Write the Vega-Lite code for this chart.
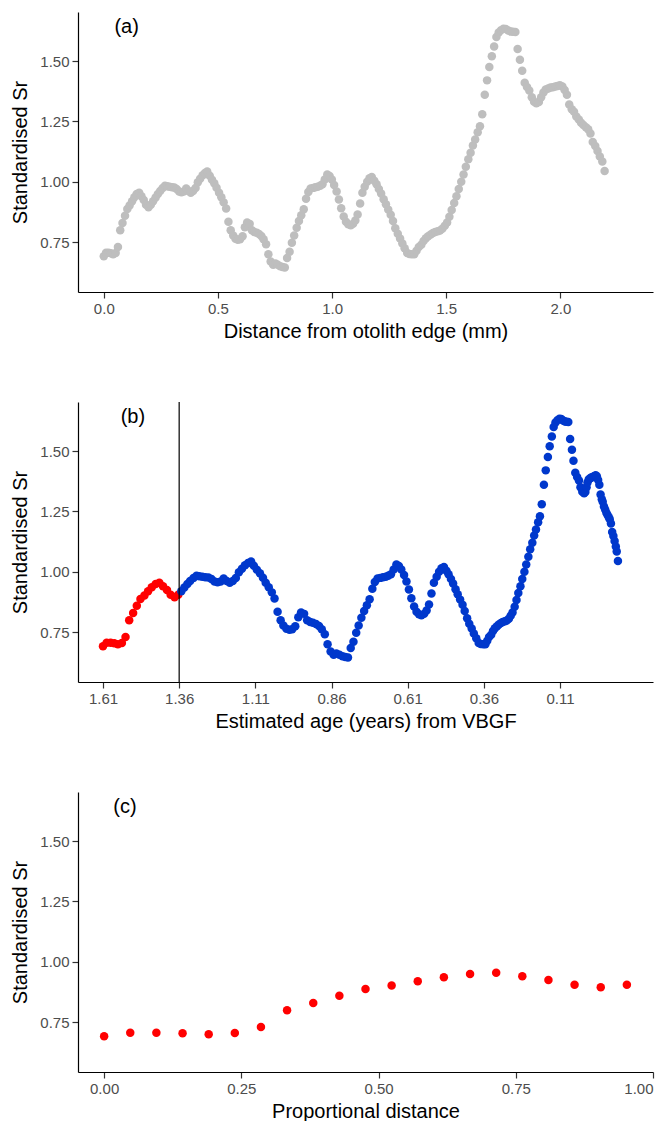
{
  "$schema": "https://vega.github.io/schema/vega-lite/v6.json",
  "padding": {"left": 10, "top": 12, "right": 8, "bottom": 0},
  "spacing": 110,
  "bounds": "flush",
  "config": {
    "view": {"stroke": null},
    "font": "Liberation Sans",
    "axis": {"grid": false, "domainColor": "#000000", "domainWidth": 1.2, "tickColor": "#333333", "tickSize": 6, "tickWidth": 1.2, "labelColor": "#4D4D4D", "labelFontSize": 15, "labelPadding": 3, "titleFontSize": 20, "titleFontWeight": "normal", "titleColor": "#000000"},
    "axisY": {"titlePadding": 9},
    "axisX": {"titlePadding": 5}
  },
  "datasets": {
    "sr": [
      {"d":0,"a":1.61,"v":0.692},{"d":0.010,"a":1.598,"v":0.706},{"d":0.021,"a":1.585,"v":0.706},{"d":0.031,"a":1.573,"v":0.704},{"d":0.041,"a":1.561,"v":0.700},{"d":0.052,"a":1.548,"v":0.705},{"d":0.062,"a":1.536,"v":0.730},{"d":0.072,"a":1.524,"v":0.800},{"d":0.082,"a":1.511,"v":0.830},{"d":0.093,"a":1.499,"v":0.860},
      {"d":0.103,"a":1.487,"v":0.888},{"d":0.113,"a":1.474,"v":0.902},{"d":0.124,"a":1.462,"v":0.920},{"d":0.134,"a":1.450,"v":0.936},{"d":0.144,"a":1.437,"v":0.950},{"d":0.155,"a":1.425,"v":0.955},{"d":0.165,"a":1.413,"v":0.940},{"d":0.175,"a":1.400,"v":0.925},{"d":0.185,"a":1.388,"v":0.905},{"d":0.196,"a":1.375,"v":0.895},
      {"d":0.206,"a":1.363,"v":0.905},{"d":0.216,"a":1.353,"v":0.920},{"d":0.227,"a":1.343,"v":0.935},{"d":0.237,"a":1.333,"v":0.950},{"d":0.247,"a":1.324,"v":0.962},{"d":0.258,"a":1.313,"v":0.975},{"d":0.268,"a":1.303,"v":0.984},{"d":0.278,"a":1.294,"v":0.982},{"d":0.288,"a":1.284,"v":0.980},{"d":0.299,"a":1.274,"v":0.978},
      {"d":0.309,"a":1.264,"v":0.977},{"d":0.319,"a":1.254,"v":0.970},{"d":0.330,"a":1.244,"v":0.960},{"d":0.340,"a":1.234,"v":0.957},{"d":0.350,"a":1.224,"v":0.960},{"d":0.361,"a":1.214,"v":0.972},{"d":0.371,"a":1.204,"v":0.962},{"d":0.381,"a":1.194,"v":0.955},{"d":0.391,"a":1.184,"v":0.962},{"d":0.402,"a":1.174,"v":0.975},
      {"d":0.412,"a":1.164,"v":0.998},{"d":0.422,"a":1.154,"v":1.013},{"d":0.433,"a":1.144,"v":1.027},{"d":0.443,"a":1.134,"v":1.037},{"d":0.453,"a":1.124,"v":1.043},{"d":0.464,"a":1.115,"v":1.025},{"d":0.474,"a":1.105,"v":1.009},{"d":0.484,"a":1.095,"v":0.994},{"d":0.494,"a":1.085,"v":0.976},{"d":0.505,"a":1.076,"v":0.955},
      {"d":0.515,"a":1.066,"v":0.936},{"d":0.525,"a":1.056,"v":0.915},{"d":0.536,"a":1.047,"v":0.890},{"d":0.546,"a":1.037,"v":0.835},{"d":0.556,"a":1.027,"v":0.800},{"d":0.567,"a":1.018,"v":0.778},{"d":0.577,"a":1.008,"v":0.764},{"d":0.587,"a":0.998,"v":0.760},{"d":0.597,"a":0.989,"v":0.762},{"d":0.608,"a":0.979,"v":0.775},
      {"d":0.618,"a":0.969,"v":0.812},{"d":0.628,"a":0.960,"v":0.832},{"d":0.639,"a":0.950,"v":0.826},{"d":0.649,"a":0.940,"v":0.800},{"d":0.659,"a":0.930,"v":0.792},{"d":0.670,"a":0.921,"v":0.789},{"d":0.680,"a":0.911,"v":0.784},{"d":0.690,"a":0.901,"v":0.776},{"d":0.700,"a":0.892,"v":0.762},{"d":0.711,"a":0.882,"v":0.742},
      {"d":0.721,"a":0.873,"v":0.700},{"d":0.731,"a":0.863,"v":0.670},{"d":0.742,"a":0.853,"v":0.657},{"d":0.752,"a":0.844,"v":0.662},{"d":0.762,"a":0.834,"v":0.657},{"d":0.773,"a":0.824,"v":0.651},{"d":0.783,"a":0.815,"v":0.647},{"d":0.793,"a":0.806,"v":0.645},{"d":0.803,"a":0.797,"v":0.685},{"d":0.814,"a":0.788,"v":0.711},
      {"d":0.824,"a":0.779,"v":0.748},{"d":0.834,"a":0.771,"v":0.778},{"d":0.845,"a":0.762,"v":0.810},{"d":0.855,"a":0.753,"v":0.838},{"d":0.865,"a":0.744,"v":0.862},{"d":0.876,"a":0.735,"v":0.887},{"d":0.886,"a":0.726,"v":0.930},{"d":0.896,"a":0.718,"v":0.958},{"d":0.906,"a":0.709,"v":0.972},{"d":0.917,"a":0.700,"v":0.975},
      {"d":0.927,"a":0.691,"v":0.978},{"d":0.937,"a":0.682,"v":0.980},{"d":0.948,"a":0.674,"v":0.984},{"d":0.958,"a":0.665,"v":0.990},{"d":0.968,"a":0.656,"v":1.010},{"d":0.979,"a":0.647,"v":1.030},{"d":0.989,"a":0.639,"v":1.024},{"d":0.999,"a":0.631,"v":1.010},{"d":1.009,"a":0.622,"v":0.987},{"d":1.020,"a":0.614,"v":0.960},
      {"d":1.030,"a":0.606,"v":0.927},{"d":1.040,"a":0.598,"v":0.891},{"d":1.051,"a":0.589,"v":0.857},{"d":1.061,"a":0.581,"v":0.835},{"d":1.071,"a":0.573,"v":0.824},{"d":1.082,"a":0.565,"v":0.820},{"d":1.092,"a":0.556,"v":0.826},{"d":1.102,"a":0.548,"v":0.840},{"d":1.112,"a":0.540,"v":0.865},{"d":1.123,"a":0.532,"v":0.910},
      {"d":1.133,"a":0.524,"v":0.955},{"d":1.143,"a":0.515,"v":0.980},{"d":1.154,"a":0.507,"v":1.000},{"d":1.164,"a":0.499,"v":1.015},{"d":1.174,"a":0.491,"v":1.020},{"d":1.185,"a":0.483,"v":1.005},{"d":1.195,"a":0.476,"v":0.990},{"d":1.205,"a":0.468,"v":0.970},{"d":1.215,"a":0.461,"v":0.952},{"d":1.226,"a":0.453,"v":0.928},
      {"d":1.236,"a":0.446,"v":0.907},{"d":1.246,"a":0.438,"v":0.885},{"d":1.257,"a":0.430,"v":0.864},{"d":1.267,"a":0.423,"v":0.838},{"d":1.277,"a":0.415,"v":0.808},{"d":1.288,"a":0.408,"v":0.785},{"d":1.298,"a":0.400,"v":0.765},{"d":1.308,"a":0.393,"v":0.745},{"d":1.318,"a":0.385,"v":0.725},{"d":1.329,"a":0.377,"v":0.705},
      {"d":1.339,"a":0.370,"v":0.701},{"d":1.349,"a":0.362,"v":0.700},{"d":1.360,"a":0.355,"v":0.700},{"d":1.370,"a":0.349,"v":0.715},{"d":1.380,"a":0.343,"v":0.730},{"d":1.391,"a":0.336,"v":0.740},{"d":1.401,"a":0.330,"v":0.755},{"d":1.411,"a":0.324,"v":0.767},{"d":1.421,"a":0.317,"v":0.775},{"d":1.432,"a":0.311,"v":0.782},
      {"d":1.442,"a":0.304,"v":0.788},{"d":1.452,"a":0.298,"v":0.792},{"d":1.463,"a":0.291,"v":0.795},{"d":1.473,"a":0.285,"v":0.799},{"d":1.483,"a":0.278,"v":0.806},{"d":1.494,"a":0.272,"v":0.818},{"d":1.504,"a":0.266,"v":0.832},{"d":1.514,"a":0.259,"v":0.855},{"d":1.524,"a":0.253,"v":0.883},{"d":1.535,"a":0.247,"v":0.912},
      {"d":1.545,"a":0.240,"v":0.940},{"d":1.555,"a":0.234,"v":0.970},{"d":1.566,"a":0.227,"v":1.000},{"d":1.576,"a":0.221,"v":1.030},{"d":1.586,"a":0.214,"v":1.062},{"d":1.597,"a":0.208,"v":1.094},{"d":1.607,"a":0.201,"v":1.120},{"d":1.617,"a":0.195,"v":1.150},{"d":1.627,"a":0.189,"v":1.175},{"d":1.638,"a":0.182,"v":1.205},
      {"d":1.648,"a":0.176,"v":1.230},{"d":1.658,"a":0.170,"v":1.280},{"d":1.669,"a":0.163,"v":1.360},{"d":1.679,"a":0.157,"v":1.420},{"d":1.689,"a":0.150,"v":1.475},{"d":1.700,"a":0.144,"v":1.520},{"d":1.710,"a":0.137,"v":1.560},{"d":1.720,"a":0.131,"v":1.600},{"d":1.730,"a":0.125,"v":1.618},{"d":1.741,"a":0.118,"v":1.628},
      {"d":1.751,"a":0.112,"v":1.634},{"d":1.761,"a":0.106,"v":1.633},{"d":1.772,"a":0.100,"v":1.626},{"d":1.782,"a":0.094,"v":1.622},{"d":1.792,"a":0.089,"v":1.621},{"d":1.803,"a":0.083,"v":1.620},{"d":1.813,"a":0.077,"v":1.550},{"d":1.823,"a":0.071,"v":1.505},{"d":1.833,"a":0.066,"v":1.460},{"d":1.844,"a":0.060,"v":1.410},
      {"d":1.854,"a":0.054,"v":1.393},{"d":1.864,"a":0.048,"v":1.378},{"d":1.875,"a":0.043,"v":1.350},{"d":1.885,"a":0.037,"v":1.332},{"d":1.895,"a":0.031,"v":1.325},{"d":1.906,"a":0.027,"v":1.330},{"d":1.916,"a":0.023,"v":1.350},{"d":1.926,"a":0.020,"v":1.370},{"d":1.936,"a":0.016,"v":1.382},{"d":1.947,"a":0.012,"v":1.386},
      {"d":1.957,"a":0.008,"v":1.390},{"d":1.967,"a":0.004,"v":1.392},{"d":1.978,"a":0.000,"v":1.395},{"d":1.988,"a":-0.004,"v":1.397},{"d":1.998,"a":-0.007,"v":1.400},{"d":2.009,"a":-0.011,"v":1.395},{"d":2.019,"a":-0.015,"v":1.380},{"d":2.029,"a":-0.019,"v":1.360},{"d":2.039,"a":-0.023,"v":1.320},{"d":2.050,"a":-0.027,"v":1.300},
      {"d":2.060,"a":-0.030,"v":1.290},{"d":2.070,"a":-0.034,"v":1.270},{"d":2.081,"a":-0.038,"v":1.258},{"d":2.091,"a":-0.042,"v":1.245},{"d":2.101,"a":-0.046,"v":1.235},{"d":2.112,"a":-0.050,"v":1.226},{"d":2.122,"a":-0.053,"v":1.218},{"d":2.132,"a":-0.057,"v":1.200},{"d":2.142,"a":-0.061,"v":1.165},{"d":2.153,"a":-0.065,"v":1.148},
      {"d":2.163,"a":-0.069,"v":1.128},{"d":2.173,"a":-0.073,"v":1.105},{"d":2.184,"a":-0.076,"v":1.084},{"d":2.194,"a":-0.080,"v":1.045}
    ],
    "prop": [
      {"p":0,"v":0.692},{"p":0.0476,"v":0.706},{"p":0.0952,"v":0.706},{"p":0.1429,"v":0.704},{"p":0.1905,"v":0.700},{"p":0.2381,"v":0.705},{"p":0.2857,"v":0.730},
      {"p":0.3333,"v":0.800},{"p":0.381,"v":0.830},{"p":0.4286,"v":0.860},{"p":0.4762,"v":0.888},{"p":0.5238,"v":0.902},{"p":0.5714,"v":0.920},{"p":0.619,"v":0.936},
      {"p":0.6667,"v":0.950},{"p":0.7143,"v":0.955},{"p":0.7619,"v":0.940},{"p":0.8095,"v":0.925},{"p":0.8571,"v":0.905},{"p":0.9048,"v":0.895},{"p":0.9524,"v":0.905}
    ]
  },
  "vconcat": [
    {
      "width": 575,
      "height": 280,
      "layer": [
        {
          "data": {"name": "sr"},
          "mark": {"type": "circle", "size": 72, "opacity": 1, "color": "#BEBEBE"},
          "encoding": {
            "x": {"field": "d", "type": "quantitative", "scale": {"domain": [-0.113, 2.406], "nice": false, "zero": false}, "axis": {"title": "Distance from otolith edge (mm)", "values": [0, 0.5, 1, 1.5, 2], "format": ".1f"}},
            "y": {"field": "v", "type": "quantitative", "scale": {"domain": [0.544, 1.703], "nice": false, "zero": false}, "axis": {"title": "Standardised Sr", "values": [0.75, 1, 1.25, 1.5], "format": ".2f"}}
          }
        },
        {
          "data": {"values": [{"x": 0.1, "y": 1.64, "t": "(a)"}]},
          "mark": {"type": "text", "fontSize": 20, "color": "#000000"},
          "encoding": {"x": {"field": "x", "type": "quantitative"}, "y": {"field": "y", "type": "quantitative"}, "text": {"field": "t"}}
        }
      ]
    },
    {
      "width": 575,
      "height": 280,
      "layer": [
        {
          "data": {"name": "sr"},
          "mark": {"type": "circle", "size": 72, "opacity": 1},
          "encoding": {
            "x": {"field": "a", "type": "quantitative", "scale": {"domain": [-0.195, 1.692], "nice": false, "zero": false, "reverse": true}, "axis": {"title": "Estimated age (years) from VBGF", "values": [1.61, 1.36, 1.11, 0.86, 0.61, 0.36, 0.11], "format": ".2f"}},
            "y": {"field": "v", "type": "quantitative", "scale": {"domain": [0.544, 1.703], "nice": false, "zero": false}, "axis": {"title": "Standardised Sr", "values": [0.75, 1, 1.25, 1.5], "format": ".2f"}},
            "color": {"condition": {"test": "datum.a > 1.36", "value": "#FF0000"}, "value": "#0038CC"}
          }
        },
        {
          "data": {"values": [{"a": 1.36}]},
          "mark": {"type": "rule", "color": "#000000", "strokeWidth": 1.2},
          "encoding": {"x": {"field": "a", "type": "quantitative"}}
        },
        {
          "data": {"values": [{"a": 1.512, "y": 1.64, "t": "(b)"}]},
          "mark": {"type": "text", "fontSize": 20, "color": "#000000"},
          "encoding": {"x": {"field": "a", "type": "quantitative"}, "y": {"field": "y", "type": "quantitative"}, "text": {"field": "t"}}
        }
      ]
    },
    {
      "width": 575,
      "height": 280,
      "layer": [
        {
          "data": {"name": "prop"},
          "mark": {"type": "circle", "size": 72, "opacity": 1, "color": "#FF0000"},
          "encoding": {
            "x": {"field": "p", "type": "quantitative", "scale": {"domain": [-0.0476, 1.0], "nice": false, "zero": false}, "axis": {"title": "Proportional distance", "values": [0, 0.25, 0.5, 0.75, 1], "format": ".2f"}},
            "y": {"field": "v", "type": "quantitative", "scale": {"domain": [0.544, 1.703], "nice": false, "zero": false}, "axis": {"title": "Standardised Sr", "values": [0.75, 1, 1.25, 1.5], "format": ".2f"}}
          }
        },
        {
          "data": {"values": [{"p": 0.038, "y": 1.64, "t": "(c)"}]},
          "mark": {"type": "text", "fontSize": 20, "color": "#000000"},
          "encoding": {"x": {"field": "p", "type": "quantitative"}, "y": {"field": "y", "type": "quantitative"}, "text": {"field": "t"}}
        }
      ]
    }
  ]
}
